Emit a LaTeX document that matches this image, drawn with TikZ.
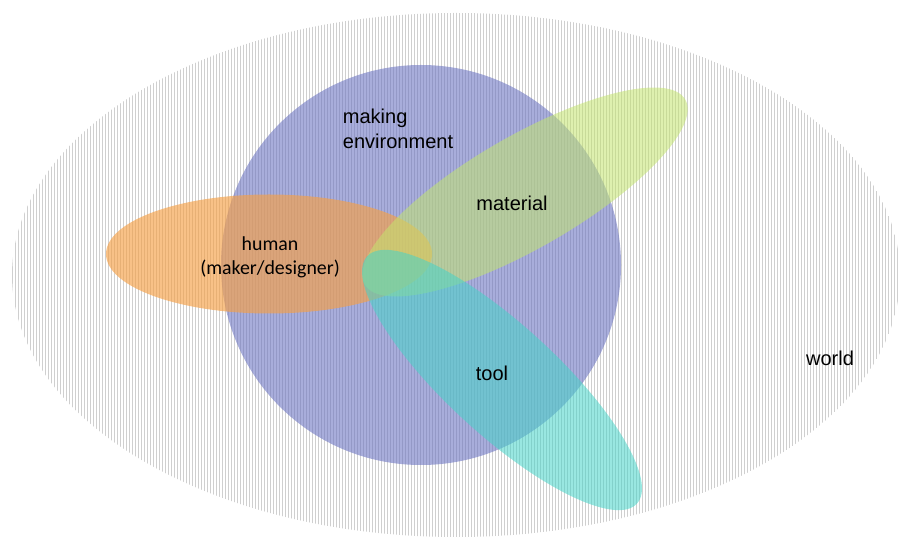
\documentclass[tikz,border=0pt]{standalone}
\usepackage{fontspec}
\setmainfont{Liberation Sans}
\newfontfamily\humanfont{Carlito}
\definecolor{envblue}{RGB}{110,118,195}
\definecolor{humanorange}{RGB}{245,160,70}
\definecolor{matgreen}{RGB}{195,228,110}
\definecolor{toolteal}{RGB}{70,212,200}
\tikzstyle{zone} = [fill opacity=0.6]
\tikzstyle{hatch} = [gray!38, line width=0.42pt]
\tikzstyle{txt} = [font=\fontsize{11.4}{14.2}\selectfont, text=black, inner sep=0pt]

\begin{document}
\begin{tikzpicture}
    \useasboundingbox (0,0) rectangle (18.14,10.8);
    % world, hatched
    \begin{scope}
        \clip (9.12,5.30) ellipse (8.88 and 5.24);
        \foreach \x in {0.24,0.30,...,18.1}
            \draw [hatch] (\x,0) -- (\x,10.8);
    \end{scope}
    % making environment
    \fill [zone, envblue] (8.42,5.50) circle (4.0);
    % human
    \fill [zone, humanorange, fill opacity=0.65] (5.38,5.72) ellipse (3.26 and 1.19);
    % material
    \fill [zone, matgreen, fill opacity=0.55, rotate around={30:(10.50,6.96)}] (10.50,6.96) ellipse (3.70 and 1.12);
    % tool
    \fill [zone, toolteal, fill opacity=0.55, rotate around={-42.5:(10.04,3.20)}] (10.04,3.20) ellipse (3.66 and 1.10);
    \node (env) [txt, align=left] at (7.96,8.22) {making\\environment};
    \node (human) [txt, align=center, font=\humanfont\fontsize{11.3}{13.6}\selectfont] at (5.40,5.66) {human\\(maker/designer)};
    \node (material) [txt] at (10.24,6.74) {material};
    \node (tool) [txt] at (9.84,3.34) {tool};
    \node (world) [txt] at (16.60,3.64) {world};
\end{tikzpicture}
\end{document}
